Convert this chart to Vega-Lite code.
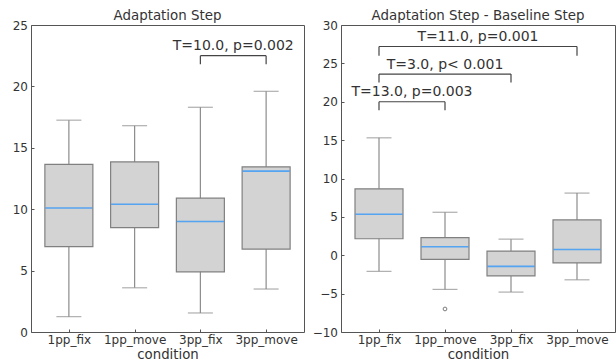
{
  "$schema": "https://vega.github.io/schema/vega-lite/v6.json",
  "padding": {"left": 11, "top": 8, "right": 0, "bottom": 0},
  "spacing": 6,
  "config": {
    "font": "DejaVu Sans",
    "view": {"stroke": "#555555", "strokeWidth": 1},
    "axis": {
      "grid": false,
      "domain": false,
      "tickSize": -3,
      "tickColor": "#555555",
      "labelFontSize": 12,
      "labelColor": "#333333",
      "labelOverlap": false,
      "titleFontSize": 13.3,
      "titleFontWeight": "normal",
      "titleColor": "#333333"
    },
    "axisY": {"labelPadding": 6.5},
    "axisX": {"labelPadding": 5, "titlePadding": 2, "labelAngle": 0},
    "title": {"fontSize": 13.4, "fontWeight": "normal", "color": "#333333", "offset": -3}
  },
  "datasets": {
    "box1": [
      {"condition": "1pp_fix", "idx": 0, "lower": 1.25, "q1": 6.95, "median": 10.1, "q3": 13.65, "upper": 17.25},
      {"condition": "1pp_move", "idx": 1, "lower": 3.6, "q1": 8.5, "median": 10.4, "q3": 13.85, "upper": 16.8},
      {"condition": "3pp_fix", "idx": 2, "lower": 1.55, "q1": 4.9, "median": 9.0, "q3": 10.9, "upper": 18.3},
      {"condition": "3pp_move", "idx": 3, "lower": 3.5, "q1": 6.75, "median": 13.1, "q3": 13.45, "upper": 19.6}
    ],
    "box2": [
      {"condition": "1pp_fix", "idx": 0, "lower": -2.1, "q1": 2.15, "median": 5.35, "q3": 8.65, "upper": 15.3},
      {"condition": "1pp_move", "idx": 1, "lower": -4.45, "q1": -0.55, "median": 1.1, "q3": 2.3, "upper": 5.6},
      {"condition": "3pp_fix", "idx": 2, "lower": -4.8, "q1": -2.7, "median": -1.45, "q3": 0.55, "upper": 2.1},
      {"condition": "3pp_move", "idx": 3, "lower": -3.2, "q1": -1.0, "median": 0.75, "q3": 4.6, "upper": 8.1}
    ],
    "out2": [
      {"condition": "1pp_move", "idx": 1, "value": -7.0}
    ],
    "brk1": [
      {"a": 2, "b": 3, "mid": 2.5, "y": 22.5, "leg": 21.8, "label": "T=10.0, p=0.002"}
    ],
    "brk2": [
      {"a": 0, "b": 1, "mid": 0.5, "y": 20.0, "leg": 18.9, "label": "T=13.0, p=0.003"},
      {"a": 0, "b": 2, "mid": 1.0, "y": 23.6, "leg": 22.5, "label": "T=3.0, p< 0.001"},
      {"a": 0, "b": 3, "mid": 1.5, "y": 27.2, "leg": 26.0, "label": "T=11.0, p=0.001"}
    ]
  },
  "hconcat": [
    {
      "title": "Adaptation Step",
      "width": 273,
      "height": 307,
      "layer": [
        {
          "data": {"name": "box1"},
          "mark": {"type": "rule", "color": "#8c8c8c", "strokeWidth": 1.2},
          "encoding": {
            "x": {"field": "idx", "type": "quantitative", "title": "condition", "scale": {"domain": [-0.5, 3.5], "nice": false, "zero": false}, "axis": {"values": [0, 1, 2, 3], "labelExpr": "['1pp_fix','1pp_move','3pp_fix','3pp_move'][datum.value]"}},
            "y": {"field": "lower", "type": "quantitative", "title": null, "scale": {"domain": [0, 25], "nice": false}, "axis": {"values": [0, 5, 10, 15, 20, 25], "labelOverlap": false}},
            "y2": {"field": "upper"}
          }
        },
        {
          "data": {"name": "box1"},
          "mark": {"type": "tick", "orient": "horizontal", "color": "#8c8c8c", "size": 25, "thickness": 1.2},
          "encoding": {
            "x": {"field": "idx", "type": "quantitative", "title": "condition"},
            "y": {"field": "lower", "type": "quantitative", "title": null}
          }
        },
        {
          "data": {"name": "box1"},
          "mark": {"type": "tick", "orient": "horizontal", "color": "#8c8c8c", "size": 25, "thickness": 1.2},
          "encoding": {
            "x": {"field": "idx", "type": "quantitative", "title": "condition"},
            "y": {"field": "upper", "type": "quantitative", "title": null}
          }
        },
        {
          "data": {"name": "box1"},
          "mark": {"type": "bar", "size": 48, "fill": "#d3d3d3", "stroke": "#808080", "strokeWidth": 1.2},
          "encoding": {
            "x": {"field": "idx", "type": "quantitative", "title": "condition"},
            "y": {"field": "q1", "type": "quantitative", "title": null},
            "y2": {"field": "q3"}
          }
        },
        {
          "data": {"name": "box1"},
          "mark": {"type": "tick", "orient": "horizontal", "color": "#2090ff", "size": 47, "thickness": 1.6},
          "encoding": {
            "x": {"field": "idx", "type": "quantitative", "title": "condition"},
            "y": {"field": "median", "type": "quantitative", "title": null}
          }
        },
        {
          "data": {"name": "brk1"},
          "mark": {"type": "rule", "color": "#444444", "strokeWidth": 1.2},
          "encoding": {
            "x": {"field": "a", "type": "quantitative", "title": "condition"},
            "x2": {"field": "b"},
            "y": {"field": "y", "type": "quantitative", "title": null}
          }
        },
        {
          "data": {"name": "brk1"},
          "mark": {"type": "rule", "color": "#444444", "strokeWidth": 1.2},
          "encoding": {
            "x": {"field": "a", "type": "quantitative", "title": "condition"},
            "y": {"field": "y", "type": "quantitative", "title": null},
            "y2": {"field": "leg"}
          }
        },
        {
          "data": {"name": "brk1"},
          "mark": {"type": "rule", "color": "#444444", "strokeWidth": 1.2},
          "encoding": {
            "x": {"field": "b", "type": "quantitative", "title": "condition"},
            "y": {"field": "y", "type": "quantitative", "title": null},
            "y2": {"field": "leg"}
          }
        },
        {
          "data": {"name": "brk1"},
          "mark": {"type": "text", "fontSize": 14, "color": "#333333", "baseline": "alphabetic", "dy": -5.5},
          "encoding": {
            "x": {"field": "mid", "type": "quantitative", "title": "condition"},
            "y": {"field": "y", "type": "quantitative", "title": null},
            "text": {"field": "label"}
          }
        }
      ]
    },
    {
      "title": "Adaptation Step - Baseline Step",
      "width": 274,
      "height": 307,
      "layer": [
        {
          "data": {"name": "box2"},
          "mark": {"type": "rule", "color": "#8c8c8c", "strokeWidth": 1.2},
          "encoding": {
            "x": {"field": "idx", "type": "quantitative", "title": "condition", "scale": {"domain": [-0.5, 3.5], "nice": false, "zero": false}, "axis": {"values": [0, 1, 2, 3], "labelExpr": "['1pp_fix','1pp_move','3pp_fix','3pp_move'][datum.value]"}},
            "y": {"field": "lower", "type": "quantitative", "title": null, "scale": {"domain": [-10, 30], "nice": false, "zero": false}, "axis": {"values": [-10, -5, 0, 5, 10, 15, 20, 25, 30], "labelOverlap": false, "tickCount": 9}},
            "y2": {"field": "upper"}
          }
        },
        {
          "data": {"name": "box2"},
          "mark": {"type": "tick", "orient": "horizontal", "color": "#8c8c8c", "size": 25, "thickness": 1.2},
          "encoding": {
            "x": {"field": "idx", "type": "quantitative", "title": "condition"},
            "y": {"field": "lower", "type": "quantitative", "title": null}
          }
        },
        {
          "data": {"name": "box2"},
          "mark": {"type": "tick", "orient": "horizontal", "color": "#8c8c8c", "size": 25, "thickness": 1.2},
          "encoding": {
            "x": {"field": "idx", "type": "quantitative", "title": "condition"},
            "y": {"field": "upper", "type": "quantitative", "title": null}
          }
        },
        {
          "data": {"name": "box2"},
          "mark": {"type": "bar", "size": 48, "fill": "#d3d3d3", "stroke": "#808080", "strokeWidth": 1.2},
          "encoding": {
            "x": {"field": "idx", "type": "quantitative", "title": "condition"},
            "y": {"field": "q1", "type": "quantitative", "title": null},
            "y2": {"field": "q3"}
          }
        },
        {
          "data": {"name": "box2"},
          "mark": {"type": "tick", "orient": "horizontal", "color": "#2090ff", "size": 47, "thickness": 1.6},
          "encoding": {
            "x": {"field": "idx", "type": "quantitative", "title": "condition"},
            "y": {"field": "median", "type": "quantitative", "title": null}
          }
        },
        {
          "data": {"name": "out2"},
          "mark": {"type": "point", "shape": "circle", "filled": false, "size": 14, "stroke": "#444444", "strokeWidth": 1},
          "encoding": {
            "x": {"field": "idx", "type": "quantitative", "title": "condition"},
            "y": {"field": "value", "type": "quantitative", "title": null}
          }
        },
        {
          "data": {"name": "brk2"},
          "mark": {"type": "rule", "color": "#444444", "strokeWidth": 1.2},
          "encoding": {
            "x": {"field": "a", "type": "quantitative", "title": "condition"},
            "x2": {"field": "b"},
            "y": {"field": "y", "type": "quantitative", "title": null}
          }
        },
        {
          "data": {"name": "brk2"},
          "mark": {"type": "rule", "color": "#444444", "strokeWidth": 1.2},
          "encoding": {
            "x": {"field": "a", "type": "quantitative", "title": "condition"},
            "y": {"field": "y", "type": "quantitative", "title": null},
            "y2": {"field": "leg"}
          }
        },
        {
          "data": {"name": "brk2"},
          "mark": {"type": "rule", "color": "#444444", "strokeWidth": 1.2},
          "encoding": {
            "x": {"field": "b", "type": "quantitative", "title": "condition"},
            "y": {"field": "y", "type": "quantitative", "title": null},
            "y2": {"field": "leg"}
          }
        },
        {
          "data": {"name": "brk2"},
          "mark": {"type": "text", "fontSize": 14, "color": "#333333", "baseline": "alphabetic", "dy": -5.5},
          "encoding": {
            "x": {"field": "mid", "type": "quantitative", "title": "condition"},
            "y": {"field": "y", "type": "quantitative", "title": null},
            "text": {"field": "label"}
          }
        }
      ]
    }
  ]
}
